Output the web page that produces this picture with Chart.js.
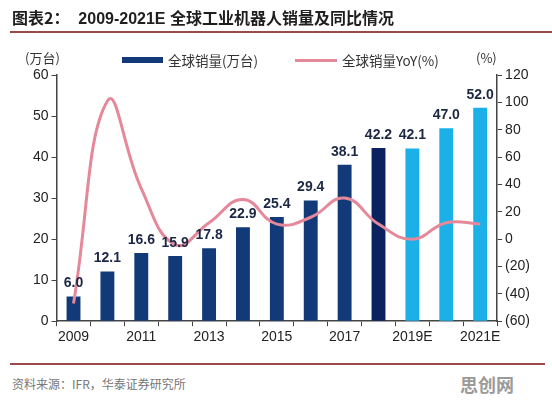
<!DOCTYPE html>
<html>
<head>
<meta charset="utf-8">
<script src="https://cdn.jsdelivr.net/npm/chart.js@4"></script>
<style>
  html, body { margin: 0; padding: 0; background: #fff; }
  body { width: 552px; height: 402px; position: relative; overflow: hidden; font-family: "Liberation Sans", "Noto Sans CJK SC", sans-serif; }
  #title { position: absolute; left: 12px; top: 5px; font-size: 16px; font-weight: bold; color: #1e1e1e; white-space: pre; font-family: "Liberation Sans", "Noto Sans CJK SC", sans-serif; }
  #title .cjk { font-family: "Noto Sans CJK SC", sans-serif; }
  .rule { position: absolute; left: 10px; height: 1.5px; background: #9a4a4a; }
  .txt { position: absolute; font-size: 13px; color: #333; font-family: "Noto Sans CJK SC", sans-serif; white-space: pre; }
  .lg { position: absolute; font-size: 13.5px; color: #333; font-family: "Noto Sans CJK SC", sans-serif; white-space: pre; top: 50px; }
  #source { position: absolute; left: 12px; top: 375px; font-size: 12px; color: #777; font-family: "Noto Sans CJK SC", sans-serif; }
  #mark { position: absolute; left: 460px; top: 371px; font-size: 18px; font-weight: bold; color: #9a9a9a; font-family: "Noto Sans CJK SC", sans-serif; }
  #wrap { position: absolute; left: 0; top: 0; width: 552px; height: 356px; }
</style>
</head>
<body>
<div id="wrap"><canvas id="myChart" width="552" height="356"></canvas></div>
<div id="title"><span class="cjk">图表2：</span>  2009-2021E <span class="cjk">全球工业机器人销量及同比情况</span></div>
<div class="rule" style="top:31px; width:542px;"></div>
<div class="txt" style="left:25px; top:48px;">(万台)</div>
<div class="txt" style="left:476px; top:48px;">(%)</div>
<div id="legend">
  <div id="lgBar" style="position:absolute; left:122px; top:57px; width:41px; height:6px;"></div>
  <div class="lg" style="left:168px;">全球销量(万台)</div>
  <div id="lgLine" style="position:absolute; left:295px; top:59px; width:42px; height:3px;"></div>
  <div class="lg" style="left:342px;">全球销量YoY(%)</div>
</div>
<div class="rule" style="top:363px; width:535px;"></div>
<div id="source">资料来源：IFR，华泰证券研究所</div>
<div id="mark">思创网</div>
<script>
// 카테고리 / 데이터
const years = ['2009', '2010', '2011', '2012', '2013', '2014', '2015', '2016', '2017', '2018', '2019E', '2020E', '2021E']
const sales = [6.0, 12.1, 16.6, 15.9, 17.8, 22.9, 25.4, 29.4, 38.1, 42.2, 42.1, 47.0, 52.0]
const yoy = [-47, 101, 37, -4, 12, 29, 11, 16, 30, 11, 0, 12, 11]
const leftTicks = [0, 10, 20, 30, 40, 50, 60]
const rightTicks = [-60, -40, -20, 0, 20, 40, 60, 80, 100, 120]

const navy = '#133a78'
const darkNavy = '#0b2261'
const sky = '#1cb0e8'
const pink = '#e5889a'
const axisColor = '#444'

// 범례 색
document.getElementById('lgBar').style.background = navy
document.getElementById('lgLine').style.background = pink

// 막대 색: 실적 / 2018 / 예측
const barColors = years.map(function (y, i) {
    if (y.endsWith('E')) return sky
    if (y === '2018') return darkNavy
    return navy
})

// 막대 위 숫자
const barLabels = {
    id: 'barLabels',
    afterDatasetsDraw(chart) {
        const ctx = chart.ctx
        const meta = chart.getDatasetMeta(1)
        ctx.save()
        ctx.font = 'bold 14px "Liberation Sans", Arial, sans-serif'
        ctx.fillStyle = '#1b2744'
        ctx.textAlign = 'center'
        ctx.textBaseline = 'bottom'
        meta.data.forEach(function (bar, i) {
            ctx.fillText(sales[i].toFixed(1), bar.x, bar.y - 6)
        })
        ctx.restore()
    },
}

const ctx = document.getElementById('myChart').getContext('2d')
const myChart = new Chart(ctx, {
    data: {
        labels: years,
        datasets: [
            {
                type: 'line',
                label: '全球销量YoY(%)',
                data: yoy,
                yAxisID: 'yR',
                borderColor: pink,
                backgroundColor: pink,
                borderWidth: 3,
                tension: 0.45,
                pointRadius: 0,
                fill: false,
                order: 0,
            },
            {
                type: 'bar',
                label: '全球销量(万台)',
                data: sales,
                yAxisID: 'yL',
                backgroundColor: barColors,
                categoryPercentage: 1,
                barPercentage: 0.41,
                order: 1,
            },
        ],
    },
    options: {
        responsive: false,
        animation: false,
        devicePixelRatio: 1,
        layout: {
            padding: { left: 30, right: 19, top: 75, bottom: 7 },
        },
        plugins: {
            tooltip: { enabled: false },
            legend: { display: false },
        },
        scales: {
            x: {
                offset: true,
                grid: {
                    offset: true,
                    drawOnChartArea: false,
                    drawTicks: true,
                    tickLength: 5,
                    color: axisColor,
                },
                border: { color: axisColor, width: 1.5 },
                ticks: {
                    autoSkip: false,
                    maxRotation: 0,
                    color: '#222',
                    font: { size: 14, family: '"Liberation Sans", Arial, sans-serif' },
                    padding: 3,
                    callback: function (v, i) {
                        return i % 2 === 0 ? years[i] : ''
                    },
                },
            },
            yL: {
                position: 'left',
                min: 0,
                max: 60,
                afterBuildTicks: function (s) {
                    s.ticks = leftTicks.map(function (v) { return { value: v } })
                },
                grid: { drawOnChartArea: false, tickLength: 5, color: axisColor },
                border: { color: axisColor, width: 1.5 },
                ticks: {
                    color: '#222',
                    padding: 3,
                    font: { size: 14, family: '"Liberation Sans", Arial, sans-serif' },
                },
            },
            yR: {
                position: 'right',
                min: -60,
                max: 120,
                afterBuildTicks: function (s) {
                    s.ticks = rightTicks.map(function (v) { return { value: v } })
                },
                grid: { drawOnChartArea: false, tickLength: 5, color: axisColor },
                border: { color: axisColor, width: 1.5 },
                ticks: {
                    color: '#222',
                    padding: 3,
                    font: { size: 14, family: '"Liberation Sans", Arial, sans-serif' },
                    callback: function (v) {
                        return v < 0 ? '(' + -v + ')' : String(v)
                    },
                },
            },
        },
    },
    plugins: [barLabels],
})
</script>
</body>
</html>
